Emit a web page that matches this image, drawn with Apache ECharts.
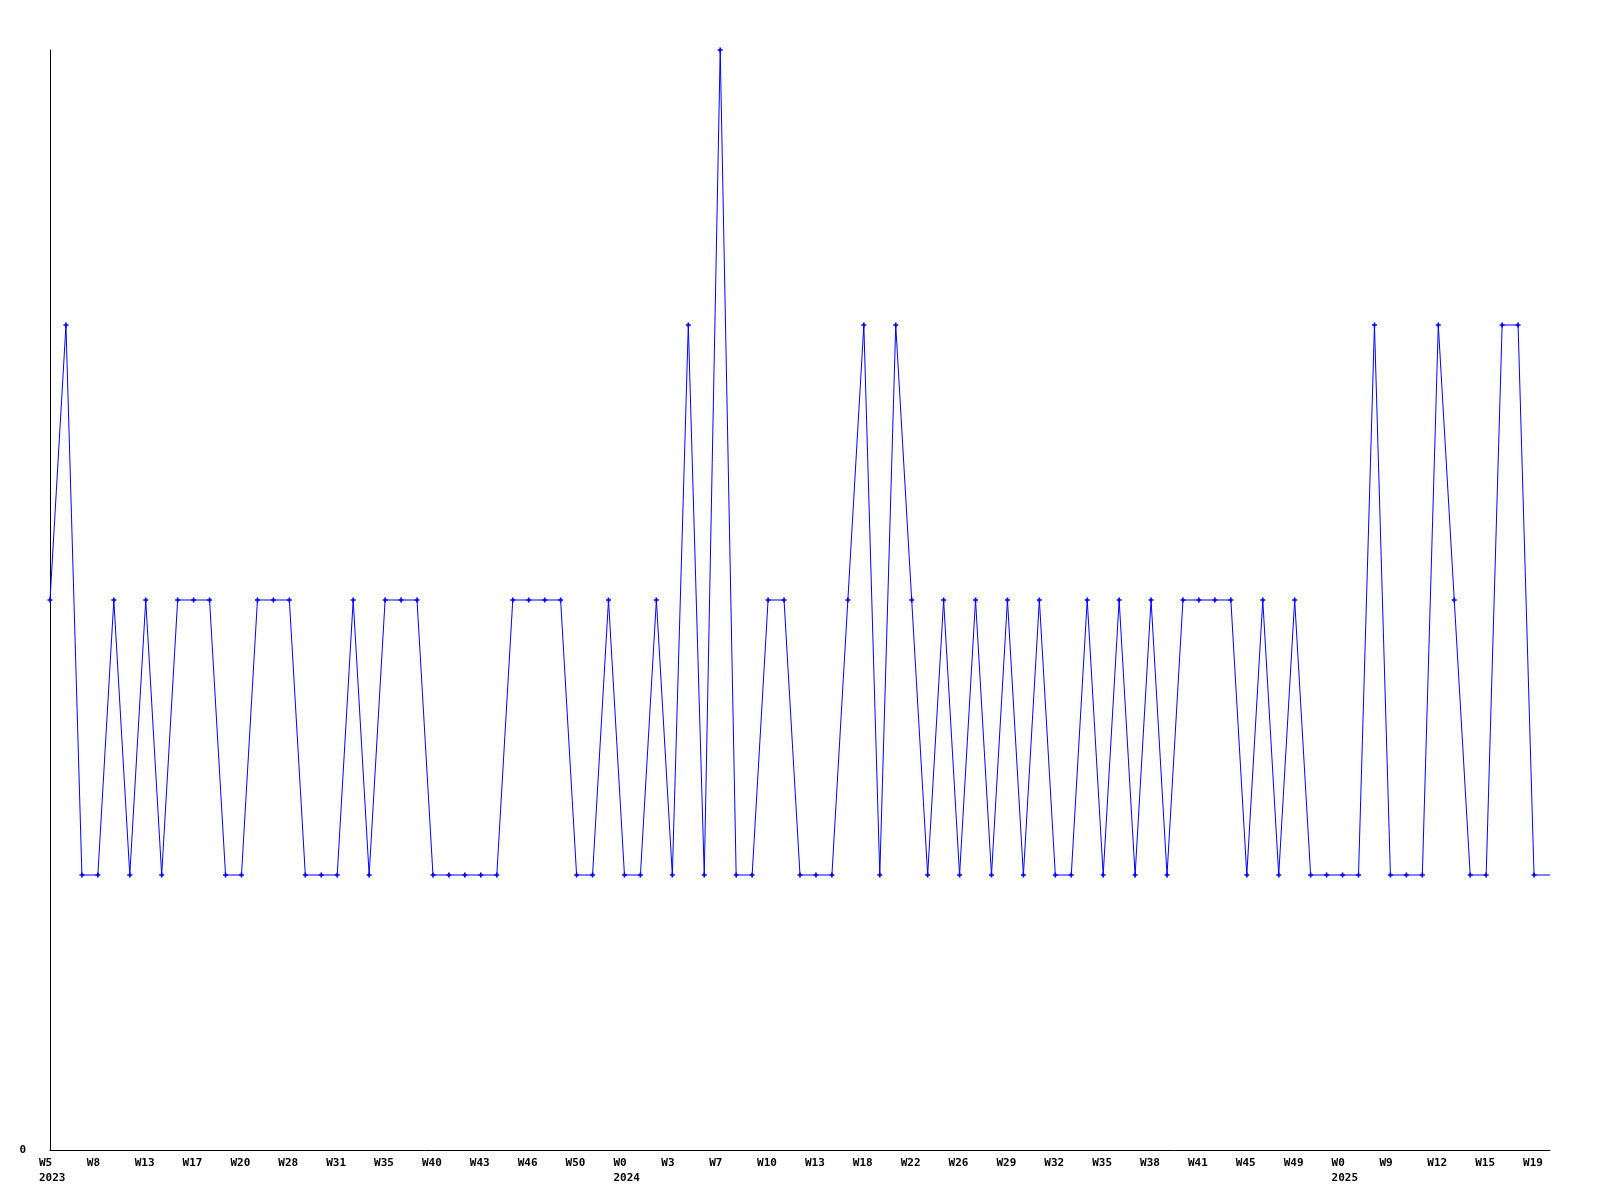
<!DOCTYPE html>
<html>
<head>
<meta charset="utf-8">
<script src="https://cdn.jsdelivr.net/npm/echarts@6/dist/echarts.min.js"></script>
<style>
html,body{margin:0;padding:0;background:#fff;}
#chart{width:1600px;height:1200px;}
</style>
</head>
<body>
<div id="chart"></div>
<script>
// Weekly values (one per point, left to right); the last one has no marker
const values = [
  2,3,1,1,2,1,2,1,2,2,2,1,1,2,2,2,1,1,1,2,1,2,2,2,1,1,1,1,1,2,
  2,2,2,1,1,2,1,1,2,1,3,1,4,1,1,2,2,1,1,1,2,3,1,3,2,1,2,1,2,1,
  2,1,2,1,1,2,1,2,1,2,1,2,2,2,2,1,2,1,2,1,1,1,1,3,1,1,1,3,2,1,
  1,3,3,1,1
];
// Tick labels, one for every third point
const tickLabels = [
  'W5','W8','W13','W17','W20','W28','W31','W35','W40','W43','W46',
  'W50','W0','W3','W7','W10','W13','W18','W22','W26','W29','W32',
  'W35','W38','W41','W45','W49','W0','W9','W12','W15','W19'
];
// Year labels and the point index under which they appear
const yearIndex = [0, 36, 81];
const yearText = ['2023', '2024', '2025'];
const labelStep = 3;

const categories = values.map((v, i) => String(i));
const lastIndex = values.length - 1;

const fontFamily = '"DejaVu Sans Mono", "Liberation Mono", monospace';

function xLabel(value, idx) {
  const i = Number(value);
  if (i % labelStep !== 0) return '';
  const t = tickLabels[i / labelStep];
  if (t === undefined) return '';
  const y = yearIndex.indexOf(i);
  return y >= 0 ? t + '\n' + yearText[y] : t;
}

const chart = echarts.init(document.getElementById('chart'), null, {renderer: 'canvas'});
chart.setOption({
  backgroundColor: '#ffffff',
  animation: false,
  grid: [
    {left: 50, right: 50, top: 50, bottom: 50, containLabel: false},
    {left: 39, right: 61, top: 50, bottom: 50, containLabel: false}
  ],
  xAxis: [
    {
      type: 'category', gridIndex: 0, data: categories, boundaryGap: false,
      axisLine: {show: true, lineStyle: {color: '#000', width: 1}},
      axisTick: {show: false},
      axisLabel: {show: false},
      splitLine: {show: false}
    },
    {
      type: 'category', gridIndex: 1, data: categories, boundaryGap: false,
      axisLine: {show: false},
      axisTick: {show: false},
      splitLine: {show: false},
      axisLabel: {
        show: true, interval: 0, align: 'left', margin: 6,
        formatter: xLabel,
        color: '#000', fontFamily: fontFamily, fontWeight: 'bold', fontSize: 11, lineHeight: 15
      }
    }
  ],
  yAxis: [
    {
      type: 'value', gridIndex: 0, min: 0, max: 4, interval: 1,
      axisLine: {show: true, lineStyle: {color: '#000', width: 1}},
      axisTick: {show: false},
      splitLine: {show: false},
      axisLabel: {
        show: true, margin: 24,
        formatter: v => (v === 0 ? '0' : ''),
        color: '#000', fontFamily: fontFamily, fontWeight: 'bold', fontSize: 11
      }
    },
    {
      type: 'value', gridIndex: 1, min: 0, max: 4, interval: 1, show: false
    }
  ],
  series: [{
    type: 'line',
    xAxisIndex: 0, yAxisIndex: 0,
    data: values.map((v, i) => i === lastIndex ? {value: v, symbolSize: 0} : v),
    symbol: 'path://M1,0H2V1H3V2H2V3H1V2H0V1H1Z',
    symbolSize: 5,
    showAllSymbol: true,
    itemStyle: {color: '#0000ff'},
    lineStyle: {color: '#0000ff', width: 1},
    emphasis: {disabled: true}
  }]
});
</script>
</body>
</html>
